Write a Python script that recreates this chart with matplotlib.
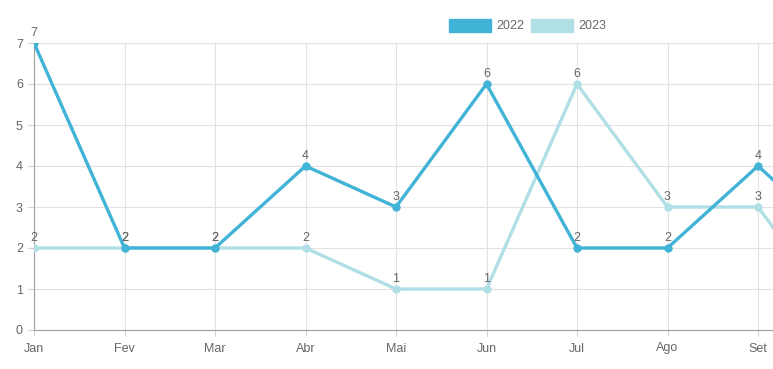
import matplotlib.pyplot as plt

plt.rcParams["font.family"] = ["Liberation Sans", "DejaVu Sans"]

months = ["Jan", "Fev", "Mar", "Abr", "Mai", "Jun", "Jul", "Ago", "Set", "Out"]
vals_2022 = [7, 2, 2, 4, 3, 6, 2, 2, 4, 2]
vals_2023 = [2, 2, 2, 2, 1, 1, 6, 3, 3, 0]

c2022 = "#41b3d6"
c2023 = "#b0dfe5"
txt = "#666666"

W, H = 773, 369
fig = plt.figure(figsize=(W / 100, H / 100), dpi=100)
# plot area: Jan at x=34, y=0 at 330, y=7 at 43, month step ~90.5px
left, bottom, top = 34, 330, 43
step = 90.5
xmax = (W - left) / step
ax = fig.add_axes([left / W, 1 - bottom / H, (W - left) / W, (bottom - top) / H])
ax.set_xlim(0, xmax)
ax.set_ylim(0, 7)

x = list(range(len(months)))
for vals, col in [(vals_2022, c2022), (vals_2023, c2023)][::-1]:
    ax.plot(x, vals, color=col, lw=2.4, marker="o", ms=5, zorder=3, clip_on=True)
    for xi, v in zip(x, vals):
        if xi <= 8:
            ax.annotate(str(v), (xi, v), xytext=(0, 3), textcoords="offset points",
                        ha="center", va="bottom", fontsize=9, color=txt, zorder=4,
                        annotation_clip=False)

ax.set_xticks(x[:9])
ax.set_xticklabels(months[:9])
ax.set_yticks(range(8))
ax.grid(True, color="#e2e2e2", lw=0.8)
ax.set_axisbelow(True)
for s in ["top", "right"]:
    ax.spines[s].set_visible(False)
for s in ["left", "bottom"]:
    ax.spines[s].set_color("#a0a0a0")
ax.tick_params(colors=txt, labelsize=9, length=4, width=0.8)
ax.tick_params(axis="x", pad=5)
ax.tick_params(axis="y", pad=4)
ax.tick_params(axis="both", color="#d0d0d0")

# legend boxes at top
def leg(x0, col, label):
    fig.patches.append(plt.Rectangle((x0 / W, 1 - 32 / H), 42 / W, 13 / H,
                                     transform=fig.transFigure, facecolor=col,
                                     edgecolor=col, figure=fig))
    fig.text((x0 + 47) / W, 1 - 26 / H, label, color=txt, fontsize=9, va="center")

leg(449, c2022, "2022")
leg(531, c2023, "2023")

fig.savefig("out.png", dpi=100)
